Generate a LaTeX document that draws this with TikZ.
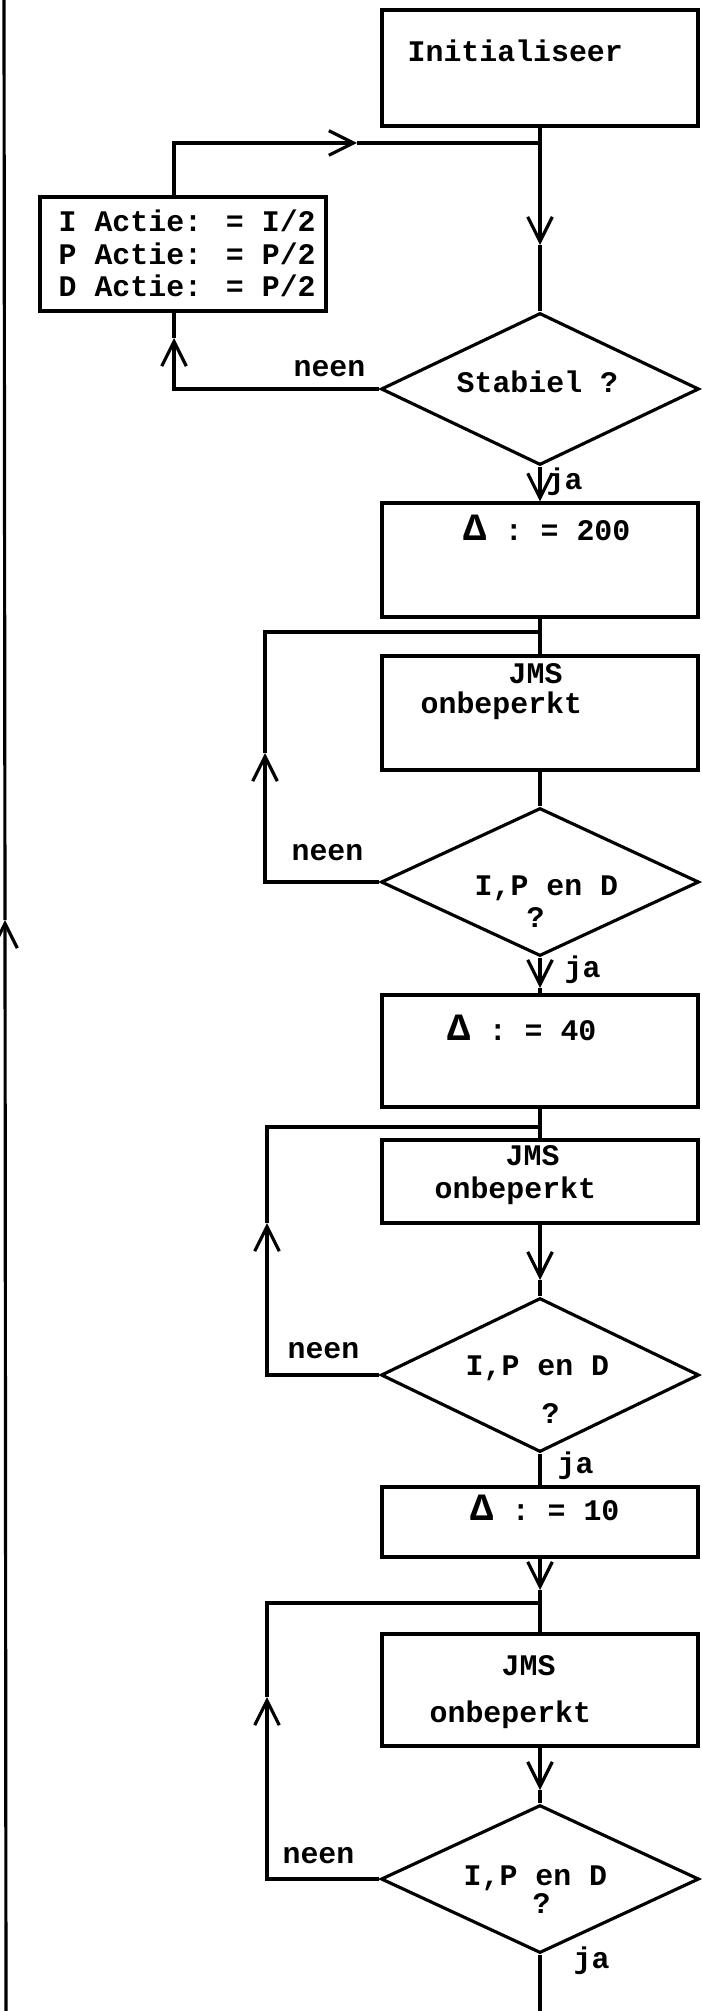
\documentclass[tikz,border=0pt]{standalone}
\usepackage{fontspec}
\setmainfont{Liberation Mono}
\usetikzlibrary{arrows.meta,shapes.geometric}
\newcommand{\bigdelta}{{\fontsize{11}{12}\selectfont Δ}}
\begin{document}
\begin{tikzpicture}[x=0.1mm,y=-0.1mm,
  line/.style={line width=0.9pt},
  box/.style={draw,line width=0.9pt,rectangle,inner sep=0pt,minimum width=31.6mm},
  dia/.style={draw,line width=0.9pt,diamond,inner sep=0pt,minimum width=31.8mm},
  txt/.style={font=\bfseries\fontsize{8.5}{10}\selectfont,inner sep=0pt,anchor=base west},
  rtxt/.style={txt,anchor=base east},
  >={Straight Barb[length=7pt,width=7pt]}]
\useasboundingbox (0,0) rectangle (701,2011);

% ---------- nodes ----------
\node[box,minimum height=11.6mm] (init) at (540,68) {};
\node[txt] (tinit) at (407,62) {Initialiseer};

\node[dia,minimum height=15.2mm] (d1) at (540,389) {};
\node[txt] (tstab) at (456,393) {Stabiel ?};
\node[rtxt] (n1) at (366,377) {neen};
\node[txt] (y1) at (546,490) {ja};

\node[box,minimum width=28.6mm,minimum height=11.4mm] (act) at (183,254) {};
\node[txt] (act1) at (58,232) {I Actie: = I/2};
\node[txt] (act2) at (58,265) {P Actie: = P/2};
\node[txt] (act3) at (58,297) {D Actie: = P/2};

\node[box,minimum height=11.4mm] (b1) at (540,560) {};
\node[txt] (tb1) at (463,540) {\bigdelta{} : = 200};

\node[box,minimum height=11.4mm] (m1) at (540,713) {};
\node[txt] (tm1a) at (508,683) {JMS};
\node[txt] (tm1b) at (420,713) {onbeperkt};

\node[dia,minimum height=14.8mm] (d2) at (540,882) {};
\node[txt] (td2a) at (474,895) {I,P en D};
\node[txt] (td2b) at (526,927) {?};
\node[rtxt] (n2) at (364,860) {neen};
\node[txt] (y2) at (564,977) {ja};

\node[box,minimum height=11.2mm] (b2) at (540,1051) {};
\node[txt] (tb2) at (447,1040) {\bigdelta{} : = 40};

\node[box,minimum height=8.3mm] (m2) at (540,1181.5) {};
\node[txt] (tm2a) at (505,1165) {JMS};
\node[txt] (tm2b) at (434,1198) {onbeperkt};

\node[dia,minimum height=15.4mm] (d3) at (540,1375) {};
\node[txt] (td3a) at (465,1375) {I,P en D};
\node[txt] (td3b) at (541,1423) {?};
\node[rtxt] (n3) at (360,1358) {neen};
\node[txt] (y3) at (557,1473) {ja};

\node[box,minimum height=7.0mm] (b3) at (540,1522) {};
\node[txt] (tb3) at (470,1520) {\bigdelta{} : = 10};

\node[box,minimum height=11.2mm] (m3) at (540,1690) {};
\node[txt] (tm3a) at (501,1675) {JMS};
\node[txt] (tm3b) at (429,1722) {onbeperkt};

\node[dia,minimum height=14.8mm] (d4) at (540,1879) {};
\node[txt] (td4a) at (463,1885) {I,P en D};
\node[txt] (td4b) at (532,1913) {?};
\node[rtxt] (n4) at (355,1863) {neen};
\node[txt] (y4) at (573,1968) {ja};

% ---------- coordinates ----------
\coordinate (lt) at (4,0);
\coordinate (lb) at (6,2011);
\coordinate (la) at (5,920);
\coordinate (j0) at (540,143);
\coordinate (a0) at (540,245);
\coordinate (l0) at (174,0);
\coordinate (a1) at (174,338);
\coordinate (ah) at (357,143);
\coordinate (j1) at (540,632);
\coordinate (a2) at (265,753);
\coordinate (a3) at (540,988);
\coordinate (j2) at (540,1127);
\coordinate (a4) at (540,1280);
\coordinate (a5) at (267,1223);
\coordinate (a6) at (540,1590);
\coordinate (j3) at (540,1603);
\coordinate (a7) at (540,1790);
\coordinate (a8) at (267,1697);
\coordinate (bot) at (540,2011);

% ---------- connectors ----------
\draw[line,->] (lb) -- (la);
\draw[line] (la) -- (lt);

\draw[line,->] (init.south) -- (a0);
\draw[line] (a0) -- (d1.north);
\draw[line,->] (d1.west) -| (a1);
\draw[line] (a1) -- (l0 |- act.south);
\draw[line,->] (l0 |- act.north) |- (ah);
\draw[line] (ah) -- (j0);

\draw[line,->] (d1.south) -- (b1.north);
\draw[line] (b1.south) -- (m1.north);
\draw[line] (m1.south) -- (d2.north);
\draw[line,->] (d2.west) -| (a2);
\draw[line] (a2) |- (j1);
\draw[line,->] (d2.south) -- (a3);
\draw[line] (a3) -- (b2.north);

\draw[line] (b2.south) -- (m2.north);
\draw[line,->] (m2.south) -- (a4);
\draw[line] (a4) -- (d3.north);
\draw[line,->] (d3.west) -| (a5);
\draw[line] (a5) |- (j2);
\draw[line] (d3.south) -- (b3.north);

\draw[line,->] (b3.south) -- (a6);
\draw[line] (a6) -- (m3.north);
\draw[line,->] (m3.south) -- (a7);
\draw[line] (a7) -- (d4.north);
\draw[line,->] (d4.west) -| (a8);
\draw[line] (a8) |- (j3);
\draw[line] (d4.south) -- (bot);
\end{tikzpicture}
\end{document}
